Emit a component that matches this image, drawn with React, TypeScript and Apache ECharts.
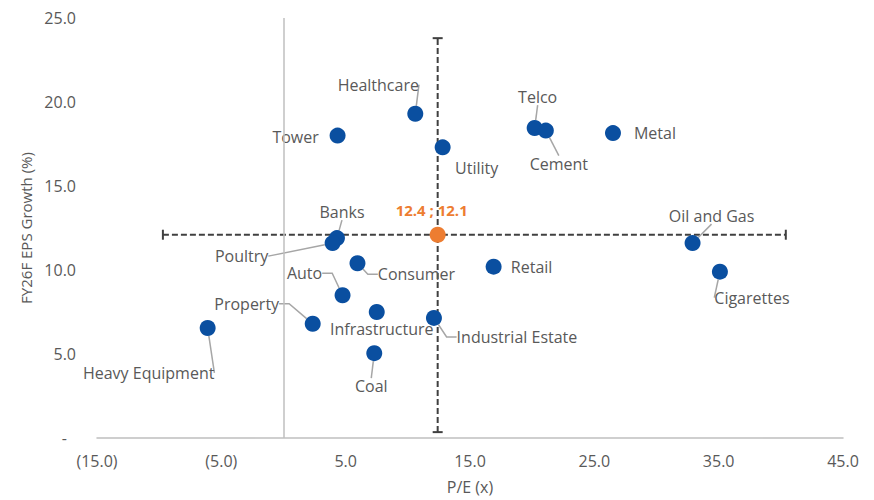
import React, { useEffect, useRef } from "react";
import * as echarts from "echarts";

const sectors = [
  "Healthcare", "Tower", "Utility", "Telco", "Cement", "Metal", "Banks", "Poultry",
  "Oil and Gas", "Cigarettes", "Consumer", "Retail", "Auto", "Infrastructure",
  "Property", "Industrial Estate", "Coal", "Heavy Equipment",
];
const peRatio = [10.6, 4.35, 12.8, 20.2, 21.1, 26.5, 4.3, 3.95, 32.9, 35.1, 5.95, 16.9, 4.75, 7.5, 2.35, 12.1, 7.3, -6.1];
const epsGrowth = [19.3, 18.0, 17.3, 18.45, 18.3, 18.15, 11.9, 11.6, 11.6, 9.9, 10.4, 10.2, 8.5, 7.5, 6.8, 7.15, 5.05, 6.55];

const meanPE = 12.4;
const meanEPS = 12.1;
const xErrorRange = [-9.7, 40.4];
const yErrorRange = [0.35, 23.8];

const xTickValues = [-15, -5, 5, 15, 25, 35, 45];

// label placement: dx, dy, show leader line, elbow length
const labelPlacement: Record<string, [number, number, boolean, number]> = {
  Healthcare: [-37, -29, true, 0],
  Tower: [-42, 1, false, 0],
  Utility: [34, 21, false, 0],
  Telco: [3, -31, true, 0],
  Cement: [13, 33, true, 0],
  Metal: [42, 0, false, 0],
  Banks: [5, -26, true, 0],
  Poultry: [-91, 13, true, 0],
  "Oil and Gas": [19, -27, true, 0],
  Cigarettes: [32, 26, true, 0],
  Consumer: [59, 11, true, 10],
  Retail: [38, 0, false, 0],
  Auto: [-38, -22, true, 10],
  Infrastructure: [5, 17, false, 0],
  Property: [-66, -20, true, 10],
  "Industrial Estate": [83, 19, true, 10],
  Coal: [-3, 33, true, 0],
  "Heavy Equipment": [-59, 45, true, 0],
};

const FONT = "'Open Sans', sans-serif";
const FS = 16;
const TEXT = "#595959";
const BLUE = "#0A4FA0";
const ORANGE = "#ED7D31";

export default function App() {
  const ref = useRef<HTMLDivElement>(null);
  useEffect(() => {
    if (!ref.current) return;
    const chart = echarts.init(ref.current, undefined, { renderer: "svg" });
    const points = sectors.map((name, i) => {
      const p = labelPlacement[name];
      return {
        name,
        value: [peRatio[i], epsGrowth[i]],
        labelLine: {
          show: p[2],
          length2: p[3],
          lineStyle: { color: "#A6A6A6", width: 1.5 },
        },
      };
    });
    chart.setOption({
      animation: false,
      backgroundColor: "#ffffff",
      textStyle: { fontFamily: FONT },
      grid: { left: 97, right: 31, top: 18, bottom: 62 },
      xAxis: {
        type: "value",
        min: -15,
        max: 45,
        interval: 10,
        axisLine: { show: true, onZero: false, lineStyle: { color: "#BFBFBF", width: 1.5 } },
        axisTick: { show: false },
        splitLine: { show: false },
        axisLabel: {
          customValues: xTickValues,
          color: TEXT,
          fontSize: FS,
          fontFamily: FONT,
          margin: 15,
          formatter: (v: number) => (v < 0 ? `(${Math.abs(v).toFixed(1)})` : v.toFixed(1)),
        },
        name: "P/E (x)",
        nameLocation: "middle",
        nameGap: 41,
        nameTextStyle: { color: TEXT, fontSize: FS, fontFamily: FONT },
      },
      yAxis: {
        type: "value",
        min: 0,
        max: 25,
        interval: 5,
        axisLine: { show: false },
        axisTick: { show: false },
        splitLine: { show: false },
        axisLabel: {
          color: TEXT,
          fontSize: FS,
          fontFamily: FONT,
          margin: 21,
          formatter: (v: number) => (v === 0 ? "{z|-}" : v.toFixed(1)),
          rich: { z: { color: TEXT, fontSize: FS, fontFamily: FONT, padding: [0, 9, 0, 0] } },
        },
        name: "FY26F EPS Growth (%)",
        nameLocation: "middle",
        nameGap: 64,
        nameTextStyle: { color: TEXT, fontSize: 15, fontFamily: FONT },
      },
      series: [
        {
          type: "custom",
          z: 1,
          silent: true,
          encode: { x: [0, 2, 3], y: [1, 4, 5] },
          data: [[meanPE, meanEPS, xErrorRange[0], xErrorRange[1], yErrorRange[0], yErrorRange[1]]],
          renderItem: (params: any, api: any) => {
            const xl = api.coord([api.value(2), api.value(1)]);
            const xh = api.coord([api.value(3), api.value(1)]);
            const yl = api.coord([api.value(0), api.value(4)]);
            const yh = api.coord([api.value(0), api.value(5)]);
            const style = { stroke: "#404040", lineWidth: 2, lineDash: [6, 3] };
            const cap = 5;
            const line = (x1: number, y1: number, x2: number, y2: number, dashed = true) => ({
              type: "line",
              shape: { x1, y1, x2, y2 },
              style: dashed ? style : { stroke: "#404040", lineWidth: 2 },
            });
            return {
              type: "group",
              children: [
                line(xl[0], xl[1], xh[0], xh[1]),
                line(yl[0], yl[1], yh[0], yh[1]),
                line(xl[0], xl[1] - cap, xl[0], xl[1] + cap, false),
                line(xh[0], xh[1] - cap, xh[0], xh[1] + cap, false),
                line(yl[0] - cap, yl[1], yl[0] + cap, yl[1], false),
                line(yh[0] - cap, yh[1], yh[0] + cap, yh[1], false),
              ],
            };
          },
        },
        {
          type: "scatter",
          z: 3,
          symbolSize: 16,
          itemStyle: { color: BLUE, opacity: 1 },
          data: points,
          label: {
            show: true,
            position: "inside",
            formatter: "{b}",
            color: TEXT,
            fontSize: FS,
            fontFamily: FONT,
          },
          labelLine: { show: true, lineStyle: { color: "#A6A6A6", width: 1.5 } },
          labelLayout: (params: any) => {
            const p = labelPlacement[sectors[params.dataIndex]];
            return { dx: p[0], dy: p[1] };
          },
          markLine: {
            silent: true,
            symbol: "none",
            label: { show: false },
            lineStyle: { color: "#BFBFBF", width: 1.5, type: "solid" },
            data: [{ xAxis: 0 }],
          },
        },
        {
          type: "scatter",
          z: 4,
          symbolSize: 16,
          itemStyle: { color: ORANGE, opacity: 1 },
          data: [{ name: "mean", value: [meanPE, meanEPS] }],
          label: {
            show: true,
            position: "inside",
            formatter: () => `${meanPE.toFixed(1)} ; ${meanEPS.toFixed(1)}`,
            color: ORANGE,
            fontWeight: "bold",
            fontSize: 15,
            fontFamily: FONT,
          },
          labelLayout: { dx: -6, dy: -25 },
        },
      ],
    });
    return () => chart.dispose();
  }, []);
  return (
    <div
      ref={ref}
      style={{ position: "absolute", left: 0, top: 0, width: 874, height: 500 }}
    />
  );
}
